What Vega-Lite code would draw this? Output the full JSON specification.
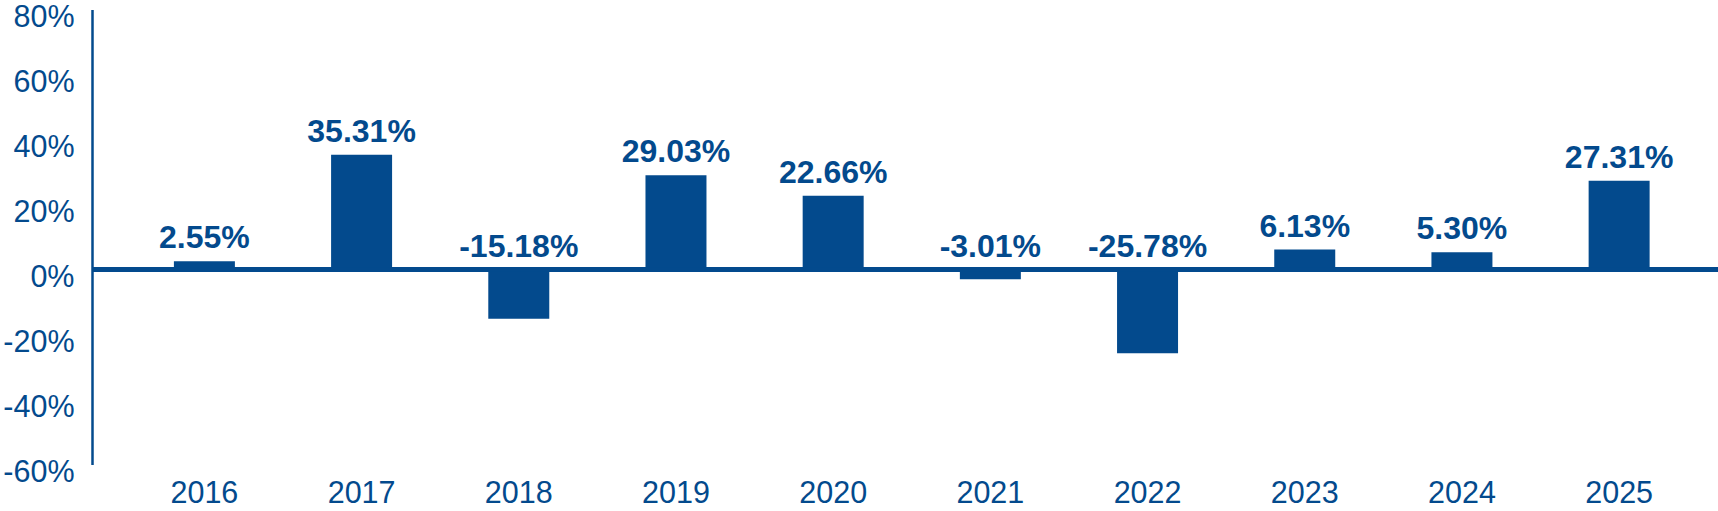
{
  "$schema": "https://vega.github.io/schema/vega-lite/v6.json",
  "autosize": "none",
  "padding": {"left": 92, "top": 9.5, "right": 0, "bottom": 46.5},
  "width": 1626,
  "height": 455,
  "background": "white",
  "config": {
    "locale": {"number": {"decimal": ".", "thousands": ",", "grouping": [3], "currency": ["$", ""], "minus": "-"}},
    "view": {"stroke": null},
    "font": "Liberation Sans"
  },
  "data": {
    "values": [
      {"Year": "2016", "Return": 0.0255},
      {"Year": "2017", "Return": 0.3531},
      {"Year": "2018", "Return": -0.1518},
      {"Year": "2019", "Return": 0.2903},
      {"Year": "2020", "Return": 0.2266},
      {"Year": "2021", "Return": -0.0301},
      {"Year": "2022", "Return": -0.2578},
      {"Year": "2023", "Return": 0.0613},
      {"Year": "2024", "Return": 0.0530},
      {"Year": "2025", "Return": 0.2731}
    ]
  },
  "encoding": {
    "x": {
      "field": "Year",
      "type": "ordinal",
      "scale": {"paddingInner": 0.612, "paddingOuter": 0.478, "align": 0.545},
      "axis": {
        "title": null,
        "domain": false,
        "ticks": false,
        "tickSize": 0,
        "labelAngle": 0,
        "labelFont": "Liberation Sans",
        "labelFontSize": 30.5,
        "labelColor": "#034a8d",
        "labelBaseline": "alphabetic",
        "labelPadding": 38
      }
    }
  },
  "layer": [
    {
      "mark": {"type": "bar", "color": "#034a8d"},
      "encoding": {
        "y": {
          "field": "Return",
          "type": "quantitative",
          "scale": {"domain": [-0.6, 0.8], "nice": false, "zero": false},
          "axis": {
            "title": null,
            "grid": false,
            "ticks": false,
            "tickSize": 0,
            "domainColor": "#034a8d",
            "domainWidth": 2.5,
            "values": [-0.6, -0.4, -0.2, 0, 0.2, 0.4, 0.6, 0.8],
            "format": ".0%",
            "labelFont": "Liberation Sans",
            "labelFontSize": 30.5,
            "labelColor": "#034a8d",
            "labelBaseline": "alphabetic",
            "labelOffset": 17,
            "labelPadding": 18,
            "labelFlush": false,
            "labelOverlap": false
          }
        }
      }
    },
    {
      "mark": {"type": "rule", "color": "#034a8d", "strokeWidth": 4},
      "encoding": {"y": {"datum": 0, "type": "quantitative"}, "x": null}
    },
    {
      "transform": [{"filter": "datum.Return >= 0"}],
      "mark": {"type": "text", "color": "#034a8d", "font": "Liberation Sans", "fontWeight": "bold", "fontSize": 32, "baseline": "alphabetic", "dy": -13},
      "encoding": {
        "y": {"field": "Return", "type": "quantitative"},
        "text": {"field": "Return", "type": "quantitative", "format": ".2%"}
      }
    },
    {
      "transform": [{"filter": "datum.Return < 0"}],
      "mark": {"type": "text", "color": "#034a8d", "font": "Liberation Sans", "fontWeight": "bold", "fontSize": 32, "baseline": "alphabetic", "dy": -13},
      "encoding": {
        "y": {"datum": 0, "type": "quantitative"},
        "text": {"field": "Return", "type": "quantitative", "format": ".2%"}
      }
    }
  ]
}
